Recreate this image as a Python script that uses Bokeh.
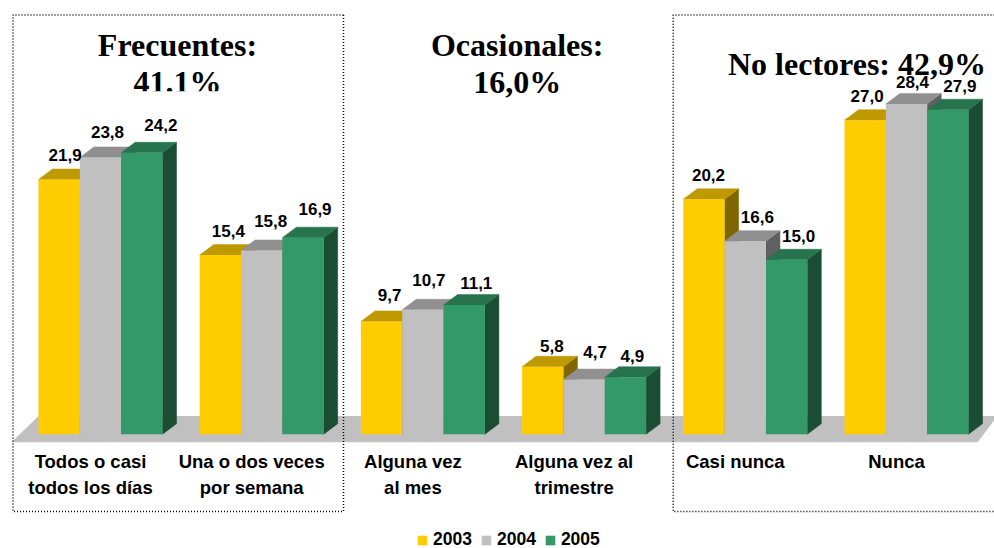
from bokeh.plotting import figure
from bokeh.models import ColumnDataSource, Legend, LegendItem, Range1d
from bokeh.embed import file_html
from bokeh.resources import INLINE
from bokeh.core.properties import value

categories = ["Todos o casi\ntodos los días", "Una o dos veces\npor semana", "Alguna vez\nal mes",
              "Alguna vez al\ntrimestre", "Casi nunca", "Nunca"]
years = ["2003", "2004", "2005"]
v2003 = [21.9, 15.4, 9.7, 5.8, 20.2, 27.0]
v2004 = [23.8, 15.8, 10.7, 4.7, 16.6, 28.4]
v2005 = [24.2, 16.9, 11.1, 4.9, 15.0, 27.9]
series = [v2003, v2004, v2005]

front = ["#FFCC00", "#C0C0C0", "#339966"]
top_c = ["#BF9900", "#909090", "#26734D"]
side = ["#806600", "#606060", "#1A4D33"]

W, H = 994, 548
UX = 161.2      # px per category
X0 = 100.0      # px of first category centre
UY = 11.63      # px per value unit
Y0 = 433.7      # px of baseline
BW = 124.0 / 3 / UX
DX = 14.0 / UX
DY = 10.5 / UY

# manual nudges of the value labels, px (right, up) from top centre of each bar
lab_dx = [[6, 8, 8, 9, 4.5, 2], [7, 9, 6, 11, 12, 6], [19, 12, 12, 7, 12, 12]]
lab_dy = [[25, 23.6, 26, 21, 24, 24], [25, 29, 30, 28, 24, 22], [28, 29, 22.6, 21, 24, 24]]


def fx(px):
    return (px - X0) / UX


def fy(py):
    return (Y0 - py) / UY


p = figure(width=W, height=H, output_backend="svg", toolbar_location=None,
           x_range=Range1d(fx(0), fx(W)), y_range=Range1d(fy(H), fy(0)),
           min_border=0, outline_line_color=None, background_fill_color="white")
p.axis.visible = False
p.grid.visible = False

# floor
p.patch([fx(12), fx(38), fx(W + 2), fx(977)], [fy(441.3), fy(416), fy(416), fy(441.3)],
        fill_color="#C0C0C0", line_color="#C0C0C0")

# titles
ttl = dict(text_font=value("Liberation Serif"), text_font_style="bold", text_font_size="32px",
           text_color="black", text_align="center", text_baseline="middle")
p.text([fx(177), fx(177), fx(516.7), fx(516.7), fx(856.5)],
       [fy(44), fy(81), fy(44), fy(81), fy(63)],
       text=["Frecuentes:", "41.1%", "Ocasionales:", "16,0%", "No lectores: 42,9%"], **ttl)
# the second title line of the first box is cut off at its bottom
p.quad(left=[fx(120)], right=[fx(235)], top=[fy(90.7)], bottom=[fy(102)],
       fill_color="white", line_color=None)

xs = list(range(len(categories)))
items = []
for j, vals in enumerate(series):
    cx = [i + (j - 1) * BW for i in xs]
    sx, sy, tx, ty = [], [], [], []
    for c, v in zip(cx, vals):
        r = c + BW / 2
        l = c - BW / 2
        sx.append([r, r + DX, r + DX, r])
        sy.append([0, DY, v + DY, v])
        tx.append([l, l + DX, r + DX, r])
        ty.append([v, v + DY, v + DY, v])
    p.patches(sx, sy, fill_color=side[j], line_color=side[j], line_width=0.5)
    p.patches(tx, ty, fill_color=top_c[j], line_color=top_c[j], line_width=0.5)
    src = ColumnDataSource(dict(x=cx, top=vals))
    r = p.vbar(x="x", top="top", bottom=0, width=BW, source=src,
               fill_color=front[j], line_color=None)
    items.append(LegendItem(label=years[j], renderers=[r]))

for j, vals in enumerate(series):
    cx = [i + (j - 1) * BW for i in xs]
    src = ColumnDataSource(dict(x=cx, y=vals,
                                t=[f"{v:.1f}".replace(".", ",") for v in vals],
                                xo=lab_dx[j], yo=[-d for d in lab_dy[j]]))
    p.text("x", "y", text="t", x_offset="xo", y_offset="yo", source=src,
           text_font=value("Liberation Sans"), text_font_style="bold", text_font_size="17px",
           text_color="black", text_align="center", text_baseline="middle")

# category labels
p.text(xs, [fy(450.5)] * 6, text=categories, x_offset=-10,
       text_font=value("Liberation Sans"), text_font_style="bold", text_font_size="18.5px",
       text_color="black", text_align="center", text_baseline="top", text_line_height=1.25)

# dotted frames
fr = dict(line_color="black", line_width=1.5, line_dash="1 2")
p.line([fx(343), fx(12.5), fx(12.5), fx(343), fx(343)],
       [fy(14.5), fy(14.5), fy(511), fy(511), fy(14.5)], **fr)
p.line([fx(W), fx(672.7), fx(672.7), fx(W)], [fy(14.5), fy(14.5), fy(511), fy(511)], **fr)

leg = Legend(items=items, orientation="horizontal", location=(416, -2),
             background_fill_alpha=0, border_line_color=None,
             label_text_font="Liberation Sans", label_text_font_style="bold",
             label_text_font_size="17.5px", label_text_color="black",
             glyph_width=12, glyph_height=12, label_standoff=5, spacing=8,
             padding=0, margin=0)
p.add_layout(leg, "center")

open("out.html", "w").write(file_html(p, INLINE))
